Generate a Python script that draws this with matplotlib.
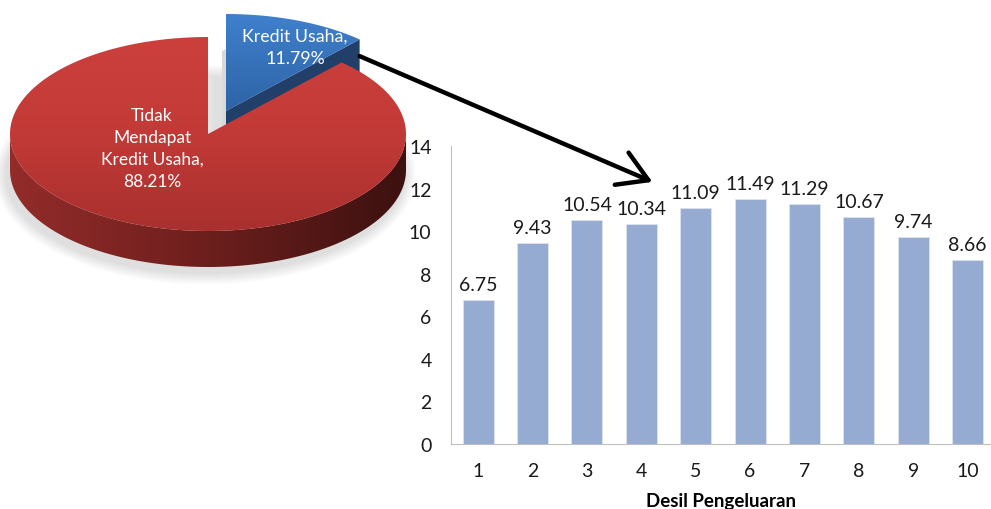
import numpy as np
import matplotlib.pyplot as plt
from matplotlib.patches import Polygon, Ellipse, FancyArrowPatch
from matplotlib.colors import LinearSegmentedColormap

plt.rcParams['font.family'] = ['Lato', 'DejaVu Sans']

# data
pie_labels = ['Tidak\nMendapat\nKredit Usaha,', 'Kredit Usaha,']
pie_shares = [88.21, 11.79]
desil = ['1', '2', '3', '4', '5', '6', '7', '8', '9', '10']
persen = [6.75, 9.43, 10.54, 10.34, 11.09, 11.49, 11.29, 10.67, 9.74, 8.66]

fig = plt.figure(figsize=(9.91, 5.10), dpi=100)

# background axes in pixel units for the 3d pie
axp = fig.add_axes([0, 0, 1, 1])
axp.set_xlim(0, 991)
axp.set_ylim(510, 0)
axp.axis('off')

cx, cy, a, b, depth = 208, 135, 198, 97, 36
off = np.array([18, -23])  # exploded slice offset


def arc(t1, t2, n=200, shift=(0, 0)):
    t = np.radians(np.linspace(t1, t2, n))
    return np.column_stack([cx + a * np.cos(t) + shift[0], cy - b * np.sin(t) + shift[1]])


def fill_grad(poly, colors, horizontal=False, z=1):
    axp.add_patch(poly)
    poly.set_facecolor('none')
    poly.set_edgecolor('none')
    xy = poly.get_xy()
    x0, x1 = xy[:, 0].min(), xy[:, 0].max()
    y0, y1 = xy[:, 1].min(), xy[:, 1].max()
    cmap = LinearSegmentedColormap.from_list('g', colors)
    g = np.linspace(0, 1, 256)
    img = g[None, :] if horizontal else g[:, None]
    im = axp.imshow(img, cmap=cmap, extent=(x0, x1, y1, y0), origin='upper',
                    aspect='auto', zorder=z, interpolation='bilinear')
    im.set_clip_path(poly)


t0 = 90 - 360 * pie_shares[1] / 100

# soft shadow under the pie
for k in range(8):
    axp.add_patch(Ellipse((cx - 3, cy + depth + 5), 2 * a + 4 + 3 * k, 2 * b + 4 + 3 * k,
                          color='#808080', alpha=0.03, lw=0, zorder=0.5))

# faint shadows inside the gap between the slices
ctr_b = np.array([cx, cy]) + off
axp.add_patch(Polygon([[ctr_b[0] - 4, ctr_b[1] - 60], [ctr_b[0], ctr_b[1] - 62],
                       [ctr_b[0], ctr_b[1] + 14], [ctr_b[0] - 4, ctr_b[1] + 14]],
                      fc='#d9d9d9', ec='none', zorder=0.8))
axp.add_patch(Polygon([[cx, cy - 57], [cx + 5, cy - 57], [cx + 5, cy - 3], [cx, cy]],
                      fc='#e3e3e3', ec='none', zorder=0.8))

# exploded slice: cut face then top
end_b = arc(t0, t0, 1, off)[0]
face_b = np.array([ctr_b, end_b, end_b + [0, depth], ctr_b + [0, depth]])
axp.add_patch(Polygon(face_b, closed=True, fc='#213f68', ec='none', zorder=1))
top_b = np.vstack([ctr_b, arc(t0, 90, 80, off)])
fill_grad(Polygon(top_b, closed=True), ['#3f80cd', '#2e64a6'], z=2)

# big slice: outer side then top
side = np.vstack([arc(180, 360), arc(360, 180, shift=(0, depth))])
fill_grad(Polygon(side, closed=True), ['#932c2a', '#6c1f1d', '#3c1110'], horizontal=True, z=3)
top_r = np.vstack([[cx, cy], arc(90, t0 + 360, 300)])
fill_grad(Polygon(top_r, closed=True), ['#cc403c', '#c23a37', '#a8302e'], z=4)

axp.text(152, 149, pie_labels[0] + '\n' + f'{pie_shares[0]:.2f}%', color='white',
         ha='center', va='center', fontsize=12.5, linespacing=1.45, zorder=6)
axp.text(295, 48, pie_labels[1] + '\n' + f'{pie_shares[1]:.2f}%', color='white',
         ha='center', va='center', fontsize=12.8, linespacing=1.45, zorder=6)

# bar chart
ax = fig.add_axes([451 / 991, 65 / 510, 540 / 991, 298 / 510])
ax.patch.set_alpha(0)
x = np.arange(1, len(desil) + 1)
bars = ax.bar(x, persen, width=0.57, color='#95abd1', edgecolor='#dfe4ee', linewidth=0.6)
ax.bar_label(bars, labels=[f'{v:.2f}' for v in persen], padding=5, fontsize=14, color='#1a1a1a')
ax.set_xlim(0.5, 10.43)
ax.set_ylim(0, 14)
ax.set_yticks(np.arange(0, 15, 2))
ax.set_xticks(x)
ax.set_xticklabels(desil)
ax.tick_params(length=0, labelsize=14, colors='#1a1a1a')
ax.tick_params(axis='y', pad=14)
ax.tick_params(axis='x', pad=13)
for s in ['top', 'right']:
    ax.spines[s].set_visible(False)
for s in ['left', 'bottom']:
    ax.spines[s].set_color('#bfbfbf')
ax.set_xlabel('Desil Pengeluaran', fontsize=13.5, fontweight='bold', labelpad=9)

# arrow from the slice to the bars
arrow = FancyArrowPatch((357, 56), (655, 184), transform=axp.transData,
                        arrowstyle='->,head_length=0.75,head_width=0.45',
                        mutation_scale=28, lw=3.2, color='black')
fig.add_artist(arrow)

fig.savefig('out.png', dpi=100)
